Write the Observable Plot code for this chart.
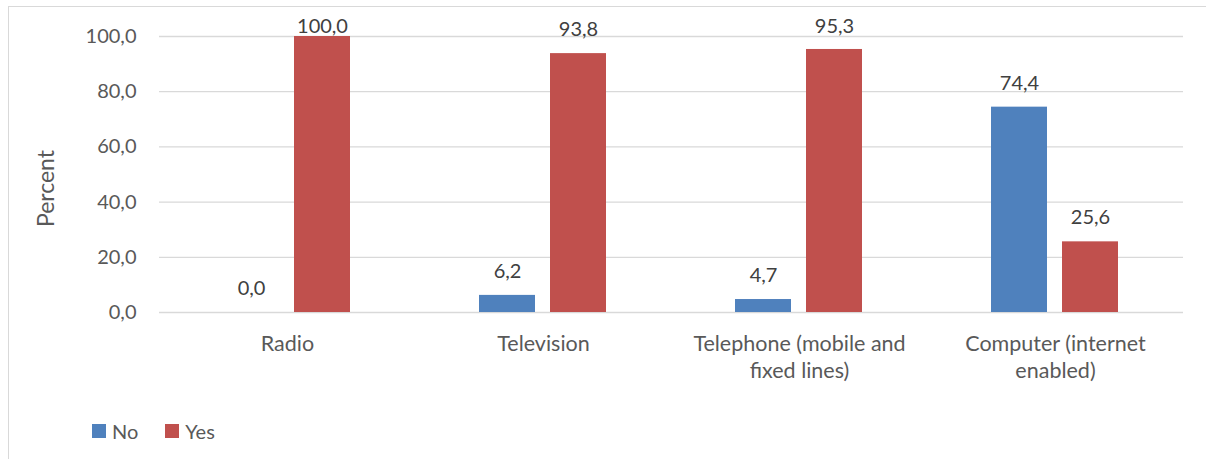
<!DOCTYPE html>
<html>
<head>
<meta charset="utf-8">
<script src="https://cdn.jsdelivr.net/npm/d3@7"></script>
<script src="https://cdn.jsdelivr.net/npm/@observablehq/plot@0.6"></script>
<style>
  html, body { margin: 0; padding: 0; background: #fff; }
  #frame { position: absolute; left: 8px; top: 6px; width: 1240px; height: 480px; border: 1.5px solid #d9d9d9; box-sizing: border-box; }
  #chart { position: absolute; left: 0; top: 0; }
  #legend { position: absolute; left: 92px; top: 414px; }
  .lg-swatch > svg { margin-right: 6px !important; }
  .lg-swatch { margin-right: 27px !important; }
</style>
</head>
<body>
<div id="frame"></div>
<div id="chart"></div>
<div id="legend"></div>
<script>
const categories = ["Radio", "Television", "Telephone (mobile and fixed lines)", "Computer (internet enabled)"];
const tickLabels = ["Radio", "Television", "Telephone (mobile and\nfixed lines)", "Computer (internet\nenabled)"];
const series = ["No", "Yes"];
const noValues = [0.0, 6.2, 4.7, 74.4];
const yesValues = [100.0, 93.8, 95.3, 25.6];
const yTicks = [0, 20, 40, 60, 80, 100];
const colors = ["#4F81BD", "#C0504D"];
const yTitle = "Percent";

const data = categories.flatMap((c, i) => [
  {category: c, series: "No", value: noValues[i]},
  {category: c, series: "Yes", value: yesValues[i]}
]);
const fmt = v => v.toFixed(1).replace(".", ",");

const font = "Lato, 'Open Sans', sans-serif";

const chart = Plot.plot({
  width: 1206,
  height: 400,
  marginLeft: 159,
  marginRight: 23,
  marginTop: 36,
  marginBottom: 88,
  style: {fontFamily: font, fontSize: "20px", color: "#595959", background: "transparent"},
  fx: {domain: categories, padding: 0, label: null, axis: null},
  x: {domain: series, paddingInner: 0.208, paddingOuter: 0.882, align: 0.5, axis: null},
  y: {domain: [0, 100], label: null, axis: null},
  color: {domain: series, range: colors},
  marks: [
    Plot.gridY(yTicks, {stroke: "#d9d9d9", strokeOpacity: 1, strokeWidth: 1.3}),
    Plot.barY(data, {fx: "category", x: "series", y: "value", fill: "series"}),
    Plot.text(data, {
      fx: "category", x: "series",
      y: d => Math.min(d.value, 95),
      text: d => fmt(d.value),
      dy: -24, fill: "#404040", fontSize: 20
    }),
    Plot.axisY(yTicks, {
      anchor: "left",
      tickSize: 0, tickPadding: 23, tickFormat: fmt, label: null,
      fill: "#595959", fontSize: 20
    }),
    Plot.axisFx({
      anchor: "bottom",
      tickSize: 0, tickPadding: 19, label: null,
      tickFormat: c => tickLabels[categories.indexOf(c)],
      lineHeight: 1.26, fill: "#595959", fontSize: 21.5
    }),
    Plot.text([{category: categories[0], t: yTitle}], {
      fx: "category", text: "t", frameAnchor: "left", textAnchor: "middle",
      rotate: -90, dx: -113, dy: 14, fill: "#595959", fontSize: 23
    })
  ]
});
document.getElementById("chart").appendChild(chart);

const legend = Plot.legend({
  color: {domain: series, range: colors},
  swatchSize: 14,
  className: "lg",
  style: {fontFamily: font, fontSize: "20px", color: "#595959"}
});
document.getElementById("legend").appendChild(legend);
</script>
</body>
</html>
